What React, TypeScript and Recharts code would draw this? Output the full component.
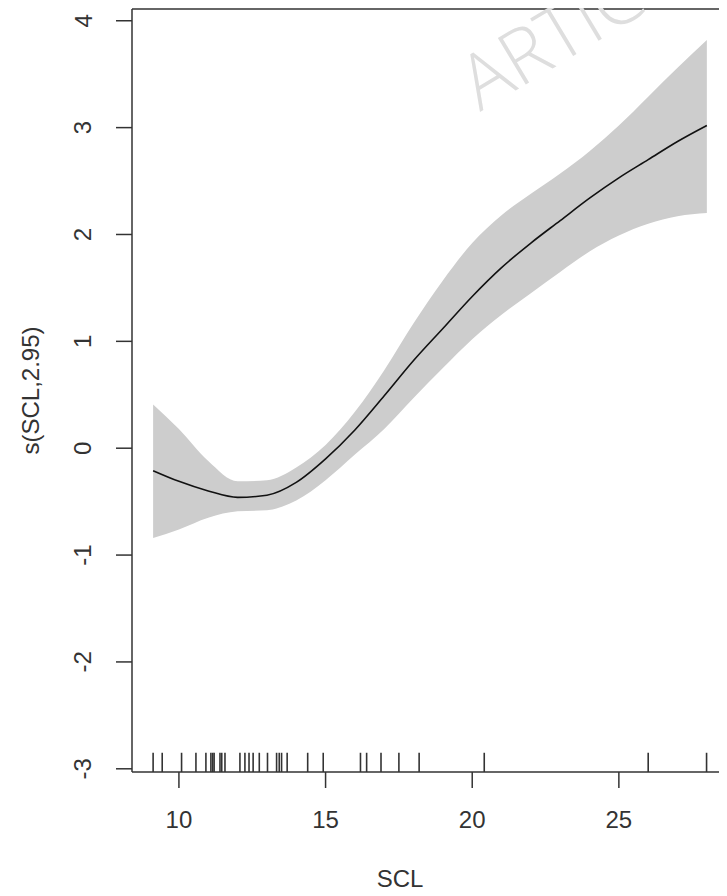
import React from "react";
import {
  ComposedChart,
  Area,
  Line,
  XAxis,
  YAxis,
  ReferenceLine,
} from "recharts";

// smooth term s(SCL, 2.95) with its confidence band
const scl = [9.12, 10, 11, 12, 13, 14, 15, 16, 17, 18, 19, 20, 21, 22, 23, 24, 25, 26, 27, 28];
const fit = [-0.21, -0.31, -0.4, -0.46, -0.44, -0.32, -0.1, 0.17, 0.49, 0.82, 1.12, 1.42, 1.69, 1.92, 2.13, 2.34, 2.53, 2.7, 2.87, 3.02];
const upper = [0.41, 0.18, -0.12, -0.31, -0.3, -0.18, 0.03, 0.34, 0.73, 1.17, 1.57, 1.92, 2.18, 2.38, 2.57, 2.78, 3.02, 3.29, 3.56, 3.82];
const lower = [-0.84, -0.76, -0.65, -0.59, -0.58, -0.49, -0.3, -0.06, 0.18, 0.47, 0.75, 1.02, 1.25, 1.45, 1.65, 1.84, 1.99, 2.1, 2.17, 2.2];

// rug of observed SCL values
const rug = [
  9.12, 9.43, 10.09, 10.58, 10.92, 11.09, 11.15, 11.2, 11.4, 11.46, 11.57, 12.08, 12.25, 12.39,
  12.53, 12.74, 13.02, 13.33, 13.42, 13.5, 13.69, 14.39, 14.92, 16.19, 16.4, 16.89, 17.5, 18.19,
  20.41, 26.0, 27.99,
];

const xTicks = [10, 15, 20, 25];
const yTicks = [-3, -2, -1, 0, 1, 2, 3, 4];
const xDomain = [8.4, 28.755];
const yDomain = [-3.03, 4.11];
const rugTop = -2.85;

const data = scl.map((x, i) => ({ x, fit: fit[i], band: [lower[i], upper[i]] }));

const FONT = "'Liberation Sans', Arial, sans-serif";
const INK = "#333";

const XTick = (props: any) => {
  const { x, y, payload } = props;
  return (
    <text x={x} y={y + 31} textAnchor="middle" dominantBaseline="central" fontSize={24} fontFamily={FONT} fill={INK}>
      {payload.value}
    </text>
  );
};

const YTick = (props: any) => {
  const { x, y, payload } = props;
  const tx = x - 33;
  return (
    <text
      x={tx}
      y={y}
      transform={`rotate(-90, ${tx}, ${y})`}
      textAnchor="middle"
      dominantBaseline="central"
      fontSize={24}
      fontFamily={FONT}
      fill={INK}
    >
      {payload.value}
    </text>
  );
};

export default function App() {
  return (
    <div style={{ position: "relative", width: 719, height: 888, marginBottom: -8, overflow: "hidden" }}>
      <ComposedChart width={730} height={888} data={data} margin={{ top: 1, right: 9, bottom: 0, left: 0 }}>
        <XAxis
          dataKey="x"
          type="number"
          domain={xDomain}
          ticks={xTicks}
          allowDataOverflow
          tickSize={16}
          tickMargin={0}
          height={124}
          stroke={INK}
          strokeWidth={1.5}
          tick={<XTick />}
          label={{
            content: () => (
              <text x={392} y={870} textAnchor="middle" dominantBaseline="central" fontSize={24} fontFamily={FONT} fill={INK}>
                SCL
              </text>
            ),
          }}
        />
        <YAxis
          type="number"
          domain={yDomain}
          ticks={yTicks}
          allowDataOverflow
          width={124}
          tickSize={16}
          tickMargin={0}
          stroke={INK}
          strokeWidth={1.5}
          tick={<YTick />}
          label={{
            content: (p: any) => {
              const vb = p.viewBox || { y: 1, height: 763 };
              const cy = vb.y + vb.height / 2;
              return (
                <text
                  x={22}
                  y={cy}
                  transform={`rotate(-90, 22, ${cy})`}
                  textAnchor="middle"
                  dominantBaseline="central"
                  fontSize={24}
                  fontFamily={FONT}
                  fill={INK}
                >
                  s(SCL,2.95)
                </text>
              );
            },
          }}
        />
        <Area
          type="monotone"
          dataKey="band"
          fill="#cdcdcd"
          fillOpacity={1}
          stroke="none"
          isAnimationActive={false}
        />
        <Line
          type="monotone"
          dataKey="fit"
          stroke="#111"
          strokeWidth={1.6}
          dot={false}
          isAnimationActive={false}
        />
        {rug.map((v, i) => (
          <ReferenceLine
            key={i}
            segment={[
              { x: v, y: yDomain[0] },
              { x: v, y: rugTop },
            ]}
            stroke="#333"
            strokeWidth={1.6}
            ifOverflow="visible"
          />
        ))}
        {/* top edge of the plot box */}
        <ReferenceLine y={yDomain[1]} stroke={INK} strokeWidth={1.5} ifOverflow="visible" />
      </ComposedChart>
      <svg
        width={719}
        height={888}
        style={{ position: "absolute", left: 0, top: 0, pointerEvents: "none" }}
      >
        <text
          x={472}
          y={104}
          transform="rotate(-31, 472, 104)"
          fontSize={76}
          fontFamily="'Open Sans', sans-serif"
          fontWeight={300}
          fill="#dedede"
        >
          ARTICLE IN PRESS
        </text>
      </svg>
    </div>
  );
}
